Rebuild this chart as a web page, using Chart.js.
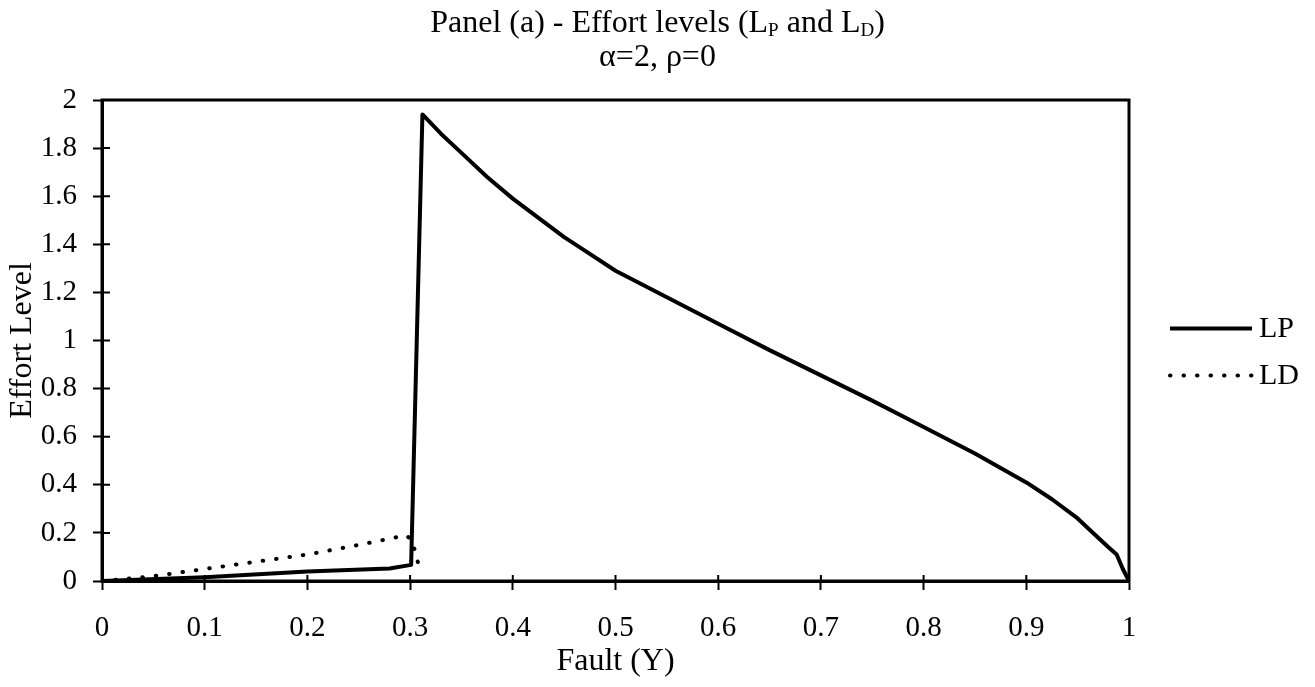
<!DOCTYPE html>
<html>
<head>
<meta charset="utf-8">
<script src="https://cdn.jsdelivr.net/npm/chart.js@4.4.0/dist/chart.umd.min.js"></script>
<style>
  html, body { margin: 0; padding: 0; background: #fff; }
  #wrap { position: relative; width: 1315px; height: 687px; }
  #c { position: absolute; left: 0; top: 0; }
  .title { position: absolute; left: 0; width: 1315px; text-align: center; z-index: 1;
           font-family: "Liberation Serif", "Times New Roman", serif; font-size: 32px; color: #000; line-height: 36px; }
  .title sub { font-size: 19px; vertical-align: -4px; line-height: 0; }
</style>
</head>
<body>
<div id="wrap">
  <canvas id="c" width="1315" height="687"></canvas>
  <div class="title" style="top:3px">Panel (a) - Effort levels (L<sub>P</sub> and L<sub>D</sub>)</div>
  <div class="title" style="top:37px">α=2, ρ=0</div>
</div>
<script>
// fault values (x) and effort levels (y)
const lpX = [0, 0.1, 0.2, 0.28, 0.301, 0.312, 0.33, 0.35, 0.375, 0.4, 0.425, 0.45, 0.475, 0.5, 0.55, 0.6, 0.65, 0.7, 0.75, 0.8, 0.85, 0.875, 0.9, 0.925, 0.95, 0.97, 0.98, 0.988, 0.994, 1.0];
const lpY = [0, 0.016, 0.039, 0.052, 0.067, 1.94, 1.86, 1.78, 1.68, 1.59, 1.51, 1.43, 1.36, 1.29, 1.18, 1.07, 0.96, 0.855, 0.75, 0.64, 0.53, 0.47, 0.41, 0.34, 0.26, 0.18, 0.14, 0.11, 0.05, 0];
const ldX = [0, 0.05, 0.1, 0.15, 0.2, 0.25, 0.296, 0.302, 0.3065, 0.3105];
const ldY = [0, 0.02, 0.05, 0.08, 0.11, 0.15, 0.19, 0.17, 0.095, 0.035];
const seriesNames = ['LP', 'LD'];
const xTicks = [0, 0.1, 0.2, 0.3, 0.4, 0.5, 0.6, 0.7, 0.8, 0.9, 1];
const yTicks = [0, 0.2, 0.4, 0.6, 0.8, 1, 1.2, 1.4, 1.6, 1.8, 2];

const FONT = '"Liberation Serif", "Times New Roman", serif';

function toPoints(xs, ys) {
    return xs.map((x, i) => ({ x: x, y: ys[i] }));
}

// box around the plot plus ticks that poke into the plot area
const framePlugin = {
    id: 'frame',
    afterDraw(chart) {
        const ctx = chart.ctx;
        const a = chart.chartArea;
        ctx.save();
        ctx.strokeStyle = '#000';
        ctx.lineWidth = 3;
        ctx.strokeRect(a.left, a.top, a.right - a.left, a.bottom - a.top);
        ctx.lineWidth = 2;
        ctx.beginPath();
        chart.scales.x.ticks.forEach(t => {
            const px = chart.scales.x.getPixelForValue(t.value);
            ctx.moveTo(px, a.bottom);
            ctx.lineTo(px, a.bottom - 6);
        });
        chart.scales.y.ticks.forEach(t => {
            const py = chart.scales.y.getPixelForValue(t.value);
            ctx.moveTo(a.left, py);
            ctx.lineTo(a.left + 8, py);
        });
        ctx.stroke();
        ctx.restore();
    }
};

// legend on the right: sample line then label
const legendPlugin = {
    id: 'sideLegend',
    afterDraw(chart) {
        const ctx = chart.ctx;
        const x0 = chart.chartArea.right + 41;
        const yMid = (chart.chartArea.top + chart.chartArea.bottom) / 2;
        ctx.save();
        chart.data.datasets.forEach((ds, i) => {
            const y = yMid - 12 + i * 47;
            ctx.strokeStyle = ds.borderColor;
            ctx.lineWidth = ds.borderWidth;
            ctx.lineCap = ds.borderCapStyle || 'butt';
            ctx.setLineDash(ds.borderDash || []);
            ctx.beginPath();
            ctx.moveTo(x0, y);
            ctx.lineTo(x0 + 82, y);
            ctx.stroke();
            ctx.setLineDash([]);
            ctx.fillStyle = '#000';
            ctx.font = '30px ' + FONT;
            ctx.textBaseline = 'middle';
            ctx.fillText(ds.label, x0 + 89, y + 1);
        });
        ctx.restore();
    }
};

const ctx = document.getElementById('c').getContext('2d');
const chart = new Chart(ctx, {
    type: 'scatter',
    data: {
        datasets: [
            {
                label: seriesNames[0],
                data: toPoints(lpX, lpY),
                showLine: true,
                borderColor: '#000',
                borderWidth: 4,
                borderJoinStyle: 'round',
                pointRadius: 0,
                tension: 0
            },
            {
                label: seriesNames[1],
                data: toPoints(ldX, ldY),
                showLine: true,
                borderColor: '#000',
                borderWidth: 4,
                borderDash: [0.5, 13],
                borderCapStyle: 'round',
                pointRadius: 0,
                tension: 0
            }
        ]
    },
    options: {
        responsive: false,
        animation: false,
        devicePixelRatio: 1,
        layout: { padding: { top: 100, right: 186, bottom: 0, left: 0 } },
        plugins: {
            legend: { display: false },
            tooltip: { enabled: false }
        },
        scales: {
            x: {
                type: 'linear',
                min: 0,
                max: 1,
                afterFit(scale) { scale.height = 106; },
                afterBuildTicks(scale) { scale.ticks = xTicks.map(v => ({ value: v })); },
                grid: { drawOnChartArea: false, tickLength: 9, tickWidth: 2, tickColor: '#000' },
                border: { color: '#000', width: 3 },
                ticks: {
                    color: '#000',
                    font: { family: FONT, size: 29 },
                    padding: 21,
                    maxRotation: 0,
                    callback: v => String(v)
                },
                title: {
                    display: true,
                    text: 'Fault (Y)',
                    color: '#000',
                    font: { family: FONT, size: 32 },
                    padding: { top: 0, bottom: 6 }
                }
            },
            y: {
                type: 'linear',
                min: 0,
                max: 2,
                afterFit(scale) { scale.width = 102; },
                afterBuildTicks(scale) { scale.ticks = yTicks.map(v => ({ value: v })); },
                grid: { drawOnChartArea: false, tickLength: 9, tickWidth: 2, tickColor: '#000' },
                border: { color: '#000', width: 3 },
                ticks: {
                    color: '#000',
                    font: { family: FONT, size: 29 },
                    padding: 16,
                    callback: v => String(v)
                },
                title: {
                    display: true,
                    text: 'Effort Level',
                    color: '#000',
                    font: { family: FONT, size: 32 },
                    padding: { top: 3, bottom: 0 }
                }
            }
        }
    },
    plugins: [framePlugin, legendPlugin]
});
</script>
</body>
</html>
